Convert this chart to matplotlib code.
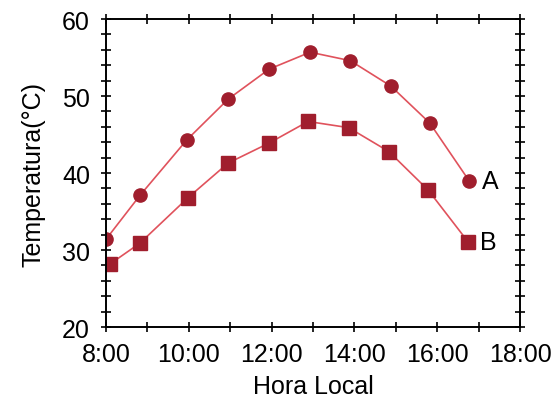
import matplotlib
matplotlib.use('Agg')
import matplotlib.pyplot as plt
from matplotlib.ticker import MultipleLocator, FuncFormatter

# hours (decimal) and temperatures
hours_a = [8.0, 8.82, 9.95, 10.95, 11.94, 12.93, 13.9, 14.88, 15.82, 16.77]
temp_a = [31.4, 37.1, 44.3, 49.6, 53.5, 55.7, 54.6, 51.3, 46.5, 39.0]

hours_b = [8.1, 8.82, 9.98, 10.95, 11.94, 12.88, 13.86, 14.83, 15.78, 16.74]
temp_b = [28.2, 30.9, 36.8, 41.3, 43.9, 46.7, 45.9, 42.8, 37.8, 31.1]

line_col = '#e0525c'
mark_col = '#a01e2d'

plt.rcParams['font.family'] = ['Liberation Sans', 'DejaVu Sans']
plt.rcParams['font.size'] = 18

fig = plt.figure(figsize=(5.55, 4.02), dpi=100)
ax = fig.add_axes([0.191, 0.184, 0.746, 0.766])

ax.plot(hours_a, temp_a, color=line_col, lw=1.2, marker='o', ms=9.5,
        mfc=mark_col, mec=mark_col)
ax.plot(hours_b, temp_b, color=line_col, lw=1.2, marker='s', ms=9.5,
        mfc=mark_col, mec=mark_col)

ax.annotate('A', (hours_a[-1], temp_a[-1]), xytext=(9, 0),
            textcoords='offset points', va='center', ha='left')
ax.annotate('B', (hours_b[-1], temp_b[-1]), xytext=(9, 0),
            textcoords='offset points', va='center', ha='left')

ax.set_xlim(8, 18)
ax.set_ylim(20, 60)
ax.xaxis.set_major_locator(MultipleLocator(2))
ax.xaxis.set_minor_locator(MultipleLocator(1))
ax.yaxis.set_major_locator(MultipleLocator(10))
ax.yaxis.set_minor_locator(MultipleLocator(2))
ax.xaxis.set_major_formatter(FuncFormatter(lambda v, p: '%d:00' % v))

ax.tick_params(which='both', direction='inout', length=7, width=1.2,
               top=True, right=True, labelsize=18)
ax.tick_params(axis='y', pad=8)
ax.tick_params(axis='x', pad=7)
for s in ax.spines.values():
    s.set_linewidth(1.4)

ax.set_xlabel('Hora Local', labelpad=6)
ax.set_ylabel('Temperatura(°C)', labelpad=12)

fig.savefig('out.png', dpi=100)
